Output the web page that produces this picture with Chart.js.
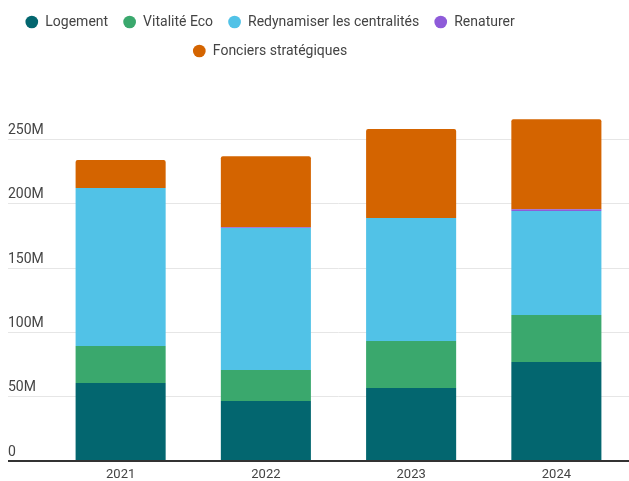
<!DOCTYPE html>
<html>
<head>
<meta charset="utf-8">
<script src="https://cdn.jsdelivr.net/npm/chart.js@4/dist/chart.umd.min.js"></script>
<style>
  html, body { margin: 0; padding: 0; background: #fff; }
  #wrap { width: 629px; height: 481px; position: relative; }
</style>
</head>
<body>
<div id="wrap"><canvas id="chart"></canvas></div>
<script>
const years = ['2021', '2022', '2023', '2024'];

const logement = [60.6e6, 46.7e6, 56.8e6, 77.0e6];
const vitaliteEco = [28.8e6, 24.1e6, 36.5e6, 36.5e6];
const redynamiser = [122.9e6, 110.4e6, 95.7e6, 80.9e6];
const renaturer = [0, 0.6e6, 0, 1.5e6];
const fonciers = [21.8e6, 55.2e6, 69.2e6, 70.0e6];

const yTicks = [0, 50e6, 100e6, 150e6, 200e6, 250e6];

const colors = ['#03666f', '#3aa86d', '#51c2e7', '#8e5bd9', '#d46400'];

const series = [
    ['Logement', logement],
    ['Vitalité Eco', vitaliteEco],
    ['Redynamiser les centralités', redynamiser],
    ['Renaturer', renaturer],
    ['Fonciers stratégiques', fonciers]
];

const datasets = series.map(([label, data], i) => ({
    label,
    data,
    backgroundColor: colors[i],
    borderWidth: 0,
    borderRadius: i === series.length - 1 ? { topLeft: 2, topRight: 2 } : 0,
    borderSkipped: false,
    barPercentage: 0.62,
    categoryPercentage: 1
}));

// the legend is centred on a narrower box than the full canvas
const legendShift = {
    id: 'legendShift',
    afterLayout(chart) {
        if (chart.legend) {
            chart.legend.right = chart.legend.left + 524;
        }
    }
};

const ctx = document.getElementById('chart').getContext('2d');
new Chart(ctx, {
    type: 'bar',
    data: { labels: years, datasets },
    plugins: [legendShift],
    options: {
        responsive: true,
        maintainAspectRatio: false,
        animation: false,
        layout: { padding: { left: 8, right: 0, top: 0, bottom: 0 } },
        plugins: {
            tooltip: { enabled: false },
            legend: {
                position: 'top',
                labels: {
                    usePointStyle: true,
                    pointStyle: 'circle',
                    boxWidth: 13,
                    boxHeight: 9,
                    padding: 15,
                    color: '#444',
                    font: { family: 'Roboto', size: 14 }
                }
            },
            // empty spacer between the legend and the plot
            subtitle: {
                display: true,
                text: ' ',
                weight: 500,
                font: { size: 10 },
                padding: { top: 0, bottom: 21 }
            }
        },
        scales: {
            x: {
                stacked: true,
                grid: { display: false, drawTicks: false },
                border: { display: false },
                afterFit: (scale) => { scale.height = 20; },
                ticks: {
                    color: '#444',
                    padding: 6,
                    font: { family: 'Roboto', size: 13 }
                }
            },
            y: {
                stacked: true,
                min: 0,
                max: 280e6,
                border: { display: false },
                afterBuildTicks: (scale) => {
                    scale.ticks = yTicks.map(v => ({ value: v }));
                },
                afterFit: (scale) => { scale.width = 40; },
                grid: {
                    tickLength: 40,
                    color: (c) => c.tick && c.tick.value === 0 ? '#333' : '#e6e6e6',
                    tickColor: (c) => c.tick && c.tick.value === 0 ? '#333' : '#e6e6e6',
                    lineWidth: (c) => c.tick && c.tick.value === 0 ? 2 : 1
                },
                ticks: {
                    crossAlign: 'far',
                    padding: 0,
                    labelOffset: -9,
                    color: '#444',
                    font: { family: 'Roboto', size: 14 },
                    callback: (v) => v === 0 ? '0' : (v / 1e6) + 'M'
                }
            }
        }
    }
});
</script>
</body>
</html>
